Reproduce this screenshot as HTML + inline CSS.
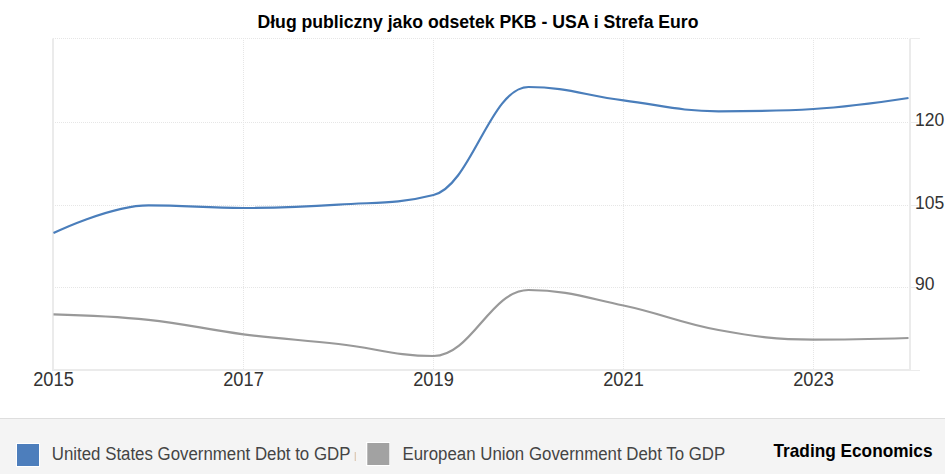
<!DOCTYPE html>
<html><head><meta charset="utf-8">
<style>
html,body{margin:0;padding:0;background:#fff;}
body{width:945px;height:474px;overflow:hidden;position:relative;font-family:"Liberation Sans",sans-serif;}
svg{position:absolute;left:0;top:0;}
</style></head>
<body>
<svg width="945" height="474" viewBox="0 0 945 474">
  <rect x="0" y="0" width="945" height="474" fill="#ffffff"/>
  <!-- gridlines -->
  <g stroke="#e6e6e6" stroke-width="1" stroke-dasharray="1,1" fill="none">
    <path d="M53 38.5 H909 M53 122.5 H909 M53 205.5 H909 M53 287.5 H909"/>
    <path d="M243.5 38 V370 M433.5 38 V370 M623.5 38 V370 M813.5 38 V370"/>
  </g>
  <g stroke="#ebebeb" stroke-width="2" fill="none">
    <path d="M53 38.5 V370.5 M910 38.5 V370.5 M52 370 H911"/>
  </g>
  <g stroke="#ececec" stroke-width="1" fill="none">
    <path d="M910 38.5 H920 M910 370.5 H920 M910 122.5 H918 M910 205.5 H918 M910 287.5 H918"/>
  </g>
  <path d="M 53.50 233.10 C 53.50 233.10 110.50 205.30 148.50 205.30 C 186.50 205.30 205.50 208.00 243.50 208.00 C 281.50 208.00 300.50 207.20 338.50 204.60 C 376.50 202.00 395.50 204.60 433.50 195.00 C 471.50 185.40 490.50 87.00 528.50 87.00 C 566.50 87.00 585.50 95.54 623.50 100.40 C 661.50 105.26 680.50 111.30 718.50 111.30 C 756.50 111.30 775.50 111.30 813.50 109.00 C 851.50 106.70 908.50 98.00 908.50 98.00" fill="none" stroke="#4a7ebb" stroke-width="2.2" stroke-linejoin="round" stroke-linecap="butt"/>
  <path d="M 53.50 314.30 C 53.50 314.30 110.50 315.80 148.50 319.80 C 186.50 323.80 205.50 329.46 243.50 334.30 C 281.50 339.14 300.50 339.66 338.50 344.00 C 376.50 348.34 395.50 356.00 433.50 356.00 C 471.50 356.00 490.50 290.00 528.50 290.00 C 566.50 290.00 585.50 297.50 623.50 305.50 C 661.50 313.50 680.50 323.18 718.50 330.00 C 756.50 336.82 775.50 339.60 813.50 339.60 C 851.50 339.60 908.50 338.00 908.50 338.00" fill="none" stroke="#999999" stroke-width="2.2" stroke-linejoin="round" stroke-linecap="butt"/>
  <!-- title -->
  <text x="478" y="28" text-anchor="middle" font-family="Liberation Sans" font-weight="bold" font-size="18" fill="#000" textLength="441" lengthAdjust="spacingAndGlyphs">Dług publiczny jako odsetek PKB - USA i Strefa Euro</text>
  <!-- x labels -->
  <g font-family="Liberation Sans" font-size="19.5" fill="#333" text-anchor="middle">
    <text x="53.5" y="385.6" textLength="40.6" lengthAdjust="spacingAndGlyphs">2015</text>
    <text x="243.5" y="385.6" textLength="40.6" lengthAdjust="spacingAndGlyphs">2017</text>
    <text x="433.5" y="385.6" textLength="40.6" lengthAdjust="spacingAndGlyphs">2019</text>
    <text x="623.5" y="385.6" textLength="40.6" lengthAdjust="spacingAndGlyphs">2021</text>
    <text x="813.5" y="385.6" textLength="40.6" lengthAdjust="spacingAndGlyphs">2023</text>
  </g>
  <g font-family="Liberation Sans" font-size="17.5" fill="#333">
    <text x="915" y="125.8">120</text>
    <text x="915" y="209">105</text>
    <text x="915" y="290">90</text>
  </g>
  <!-- legend -->
  <rect x="0" y="418" width="945" height="56" fill="#f4f4f4"/>
  <rect x="0" y="418" width="945" height="1" fill="#dedede"/>
  <rect x="16" y="443" width="24" height="24" fill="#ffffff"/>
  <rect x="17" y="444" width="22" height="22" fill="#4d7ebc"/>
  <text x="51.8" y="460.4" font-family="Liberation Sans" font-size="17.6" textLength="298.6" lengthAdjust="spacingAndGlyphs" fill="#444">United States Government Debt to GDP</text>
  <rect x="354.8" y="452" width="0.8" height="9" fill="#c9a27a" opacity="0.8"/>
  <rect x="366" y="442" width="24" height="24" fill="#ffffff"/>
  <rect x="367.3" y="443" width="22" height="22" fill="#a2a2a2"/>
  <text x="402.5" y="459.7" font-family="Liberation Sans" font-size="17.6" textLength="322.7" lengthAdjust="spacingAndGlyphs" fill="#444">European Union Government Debt To GDP</text>
  <text x="773.5" y="457" font-family="Liberation Sans" font-weight="bold" font-size="18.5" fill="#000" textLength="159" lengthAdjust="spacingAndGlyphs">Trading Economics</text>
</svg>
</body></html>
